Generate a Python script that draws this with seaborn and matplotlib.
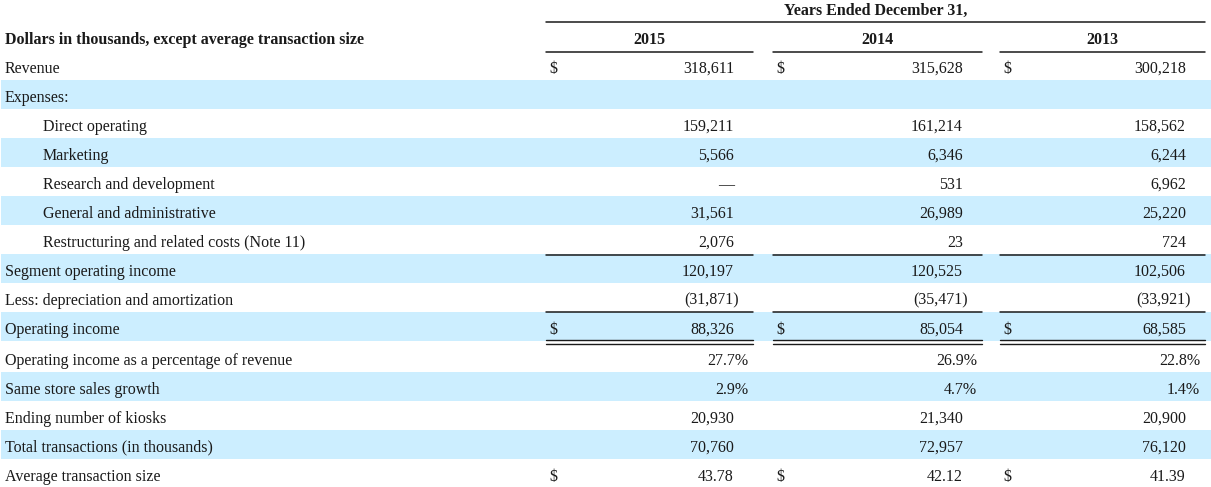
import matplotlib
matplotlib.use("Agg")
import matplotlib.pyplot as plt
import seaborn as sns

row_labels = [
    "Revenue", "Expenses:", "Direct operating", "Marketing", "Research and development",
    "General and administrative", "Restructuring and related costs (Note 11)",
    "Segment operating income", "Less: depreciation and amortization", "Operating income",
    "Operating income as a percentage of revenue", "Same store sales growth",
    "Ending number of kiosks", "Total transactions (in thousands)", "Average transaction size",
]
indented = [False, False, True, True, True, True, True, False, False, False, False, False, False, False, False]
kinds = ["usd", "head", "num", "num", "num", "num", "num", "num", "num", "usd", "pct", "pct", "num", "num", "usd2"]
years = ["2015", "2014", "2013"]
v2015 = [318611, None, 159211, 5566, None, 31561, 2076, 120197, -31871, 88326, 27.7, 2.9, 20930, 70760, 43.78]
v2014 = [315628, None, 161214, 6346, 531, 26989, 23, 120525, -35471, 85054, 26.9, 4.7, 21340, 72957, 42.12]
v2013 = [300218, None, 158562, 6244, 6962, 25220, 724, 102506, -33921, 68585, 22.8, 1.4, 20900, 76120, 41.39]
shaded = [1, 3, 5, 7, 9, 11, 13]

sns.set_theme(style="white")
plt.rcParams['font.family'] = ['Liberation Serif', 'DejaVu Serif']

W, H = 1211, 487
fig = plt.figure(figsize=(W / 100, H / 100), dpi=100)
ax = fig.add_axes([0, 0, 1, 1])
ax.set_xlim(0, W)
ax.set_ylim(H, 0)
ax.axis('off')

txt = '#1a1a1a'
fs = 11.5
stripe = '#CCEEFF'

# column extents
cols = [(546, 753), (773, 982), (1000, 1205)]
row_h = 29

def row_y(i):
    y = 65.5 + row_h * i
    if i >= 10:
        y += 2
    return y

for i in shaded:
    y = row_y(i)
    ax.axhspan(y - row_h / 2, y + row_h / 2, xmin=1 / W, xmax=1, color=stripe, lw=0, zorder=0)

# header
ax.text((cols[0][0] + cols[2][1]) / 2, 14.5, "Years Ended December 31,", ha='center', va='baseline',
        fontsize=fs, fontweight='bold', color=txt)
ax.plot([cols[0][0], cols[2][1]], [21.5, 21.5], color=txt, lw=1.1)
ax.text(5, 44.5, "Dollars in thousands, except average transaction size", ha='left', va='baseline',
        fontsize=fs, fontweight='bold', color=txt)
for (x0, x1), yr in zip(cols, years):
    ax.text((x0 + x1) / 2, 44.5, yr, ha='center', va='baseline', fontsize=fs, fontweight='bold', color=txt)
    ax.plot([x0, x1], [51.5, 51.5], color=txt, lw=1.1)

for i, lab in enumerate(row_labels):
    y = row_y(i) + 7.2
    ax.text(43 if indented[i] else 5, y, lab, ha='left', va='baseline', fontsize=fs, color=txt)
    for (x0, x1), vals in zip(cols, [v2015, v2014, v2013]):
        kind = kinds[i]
        if kind == 'head':
            continue
        v = vals[i]
        right = x1 - 19
        if kind in ('usd', 'usd2'):
            ax.text(x0 + 3, y, "$", ha='left', va='baseline', fontsize=fs, color=txt)
        if v is None:
            s, xr = "—", right
        elif kind == 'pct':
            s, xr = f"{v:.1f}%", x1 - 5
        elif kind == 'usd2':
            s, xr = f"{v:.2f}", right
        elif v < 0:
            s, xr = f"({-v:,})", right + 5
        else:
            s, xr = f"{v:,}", right
        ax.text(xr, y, s, ha='right', va='baseline', fontsize=fs, color=txt)

# rules under restructuring, depreciation, and double rule under operating income
for x0, x1 in cols:
    ax.plot([x0, x1], [254.5, 254.5], color=txt, lw=1.1)
    ax.plot([x0, x1], [312, 312], color=txt, lw=1.1)
    ax.plot([x0, x1], [340, 340], color=txt, lw=1.0)
    ax.plot([x0, x1], [343.5, 343.5], color=txt, lw=1.0)

fig.savefig("out.png", dpi=100)
